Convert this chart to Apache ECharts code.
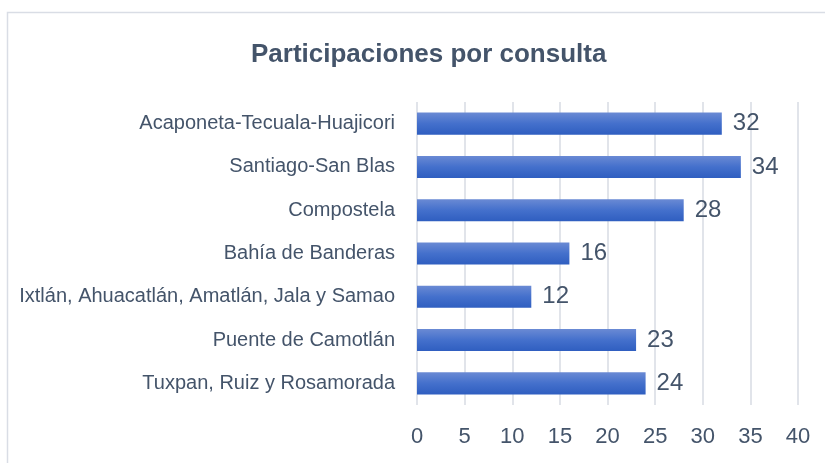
<!DOCTYPE html>
<html>
<head>
<meta charset="utf-8">
<script src="https://cdn.jsdelivr.net/npm/echarts@6/dist/echarts.min.js"></script>
<style>
	html,body{margin:0;padding:0;background:#fff;}
	#chart{width:825px;height:463px;}
</style>
</head>
<body>
<div id="chart"></div>
<script>
	// datos (de arriba hacia abajo)
	var categorias = [
		"Acaponeta-Tecuala-Huajicori",
		"Santiago-San Blas",
		"Compostela",
		"Bahía de Banderas",
		"Ixtlán, Ahuacatlán, Amatlán, Jala y Samao",
		"Puente de Camotlán",
		"Tuxpan, Ruiz y Rosamorada"
	];
	var participaciones = [32, 34, 28, 16, 12, 23, 24];
	var ejeMin = 0, ejeMax = 40, ejePaso = 5;

	var fuente = '"Liberation Sans", Arial, sans-serif';
	var gris = '#44546A';

	var chart = echarts.init(document.getElementById("chart"));
	var option = {
		backgroundColor: '#fff',
		animation: false,
		title: {
			text: 'Participaciones por consulta',
			left: 246,
			top: 37,
			textStyle: {
				fontFamily: fuente,
				fontSize: 26,
				fontWeight: 'bold',
				color: gris
			}
		},
		graphic: [{
			type: 'rect',
			shape: {x: 7.5, y: 12.5, width: 830, height: 470},
			style: {fill: 'none', stroke: '#D9DDE5', lineWidth: 1.5},
			silent: true
		}],
		grid: {
			left: 417,
			right: 27,
			top: 102,
			bottom: 58
		},
		xAxis: {
			type: 'value',
			min: ejeMin,
			max: ejeMax,
			interval: ejePaso,
			axisLine: {show: false},
			axisTick: {show: false},
			splitLine: {lineStyle: {color: '#E1E4EA', width: 2}},
			axisLabel: {
				margin: 21,
				fontFamily: fuente,
				fontSize: 22,
				color: gris
			}
		},
		yAxis: {
			type: 'category',
			inverse: true,
			data: categorias,
			axisLine: {show: false},
			axisTick: {show: false},
			axisLabel: {
				margin: 22,
				fontFamily: fuente,
				fontSize: 20,
				color: gris
			}
		},
		series: [{
			type: 'bar',
			data: participaciones,
			barWidth: '51%',
			itemStyle: {
				color: new echarts.graphic.LinearGradient(0, 0, 0, 1, [
					{offset: 0, color: '#6A8AD4'},
					{offset: 0.5, color: '#4470CC'},
					{offset: 1, color: '#2F5EC0'}
				])
			},
			label: {
				show: true,
				position: 'right',
				distance: 11,
				fontFamily: fuente,
				fontSize: 24,
				color: gris
			}
		}]
	};
	chart.setOption(option);
</script>
</body>
</html>
